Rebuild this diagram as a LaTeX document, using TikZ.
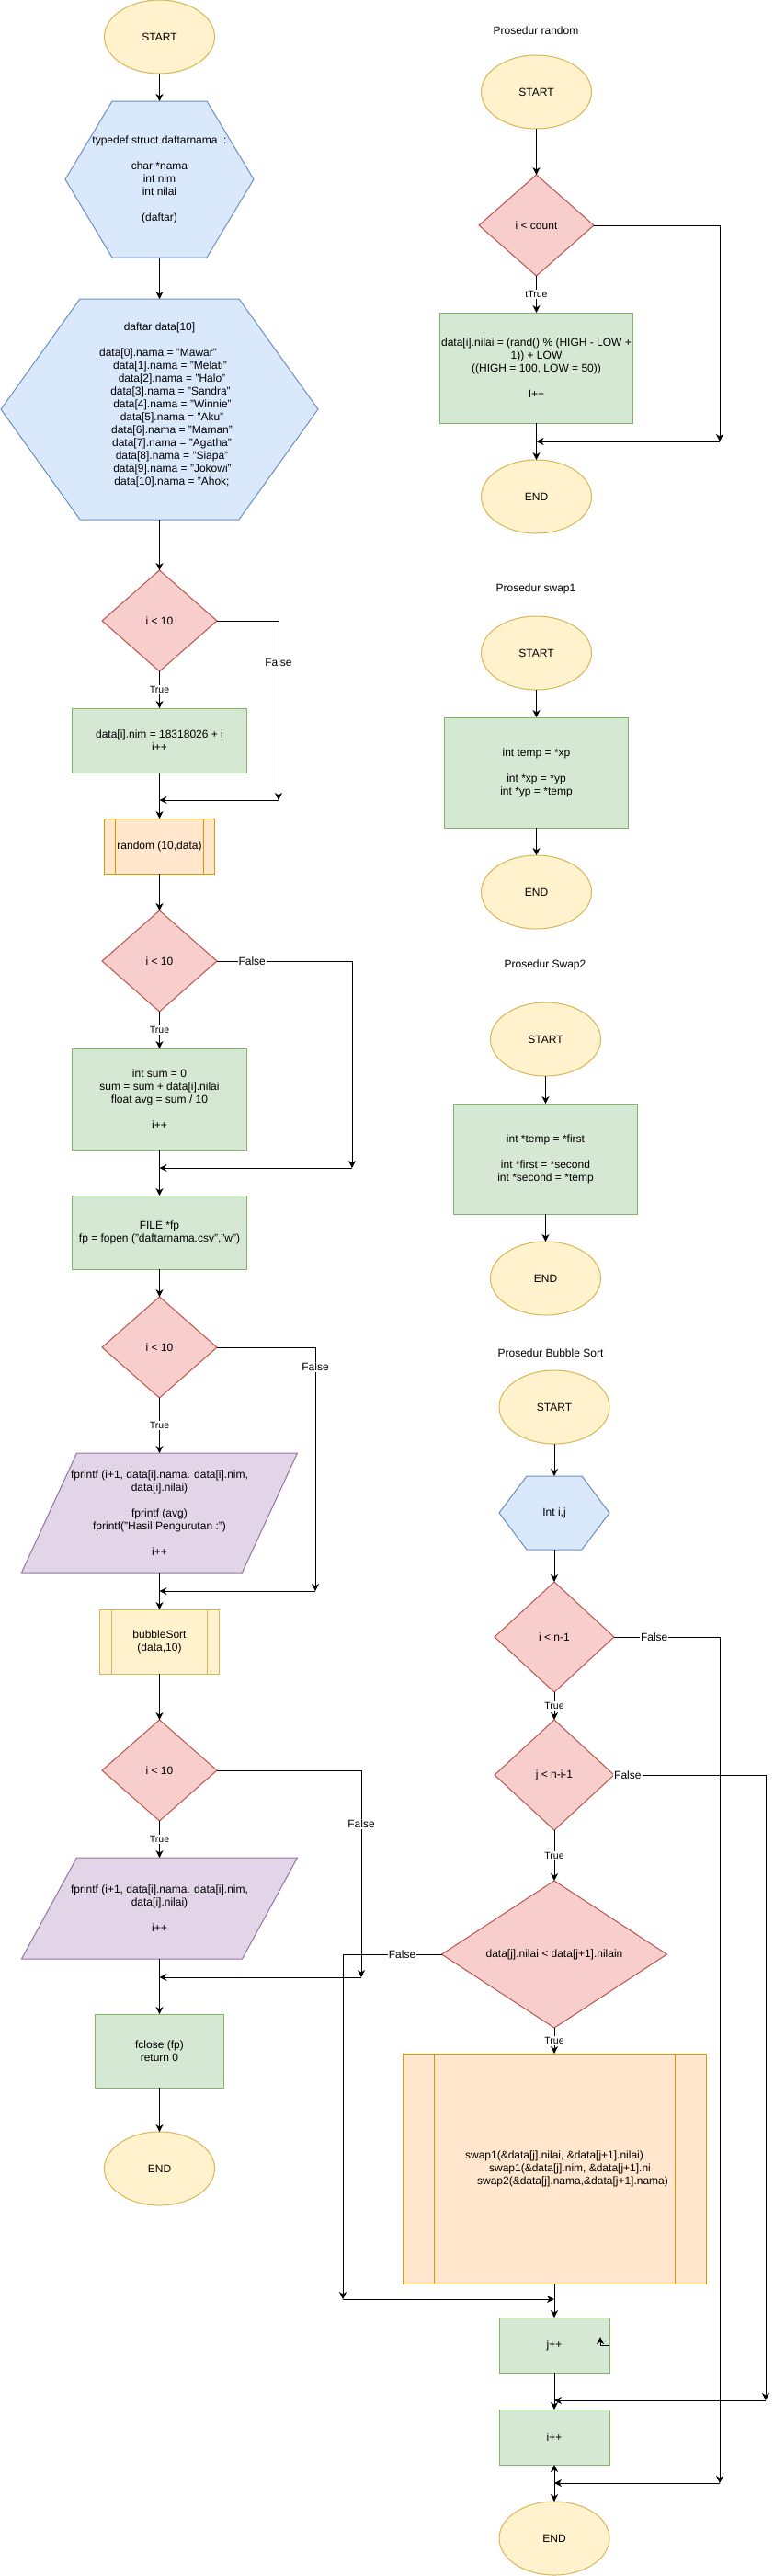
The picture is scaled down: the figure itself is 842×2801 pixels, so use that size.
\documentclass[tikz,border=0pt]{standalone}
\usepackage{fontspec}
\setmainfont{Liberation Sans}
\usetikzlibrary{shapes.geometric,arrows.meta,calc}
\pgfdeclarelayer{bg}
\pgfsetlayers{bg,main}

\definecolor{yelF}{HTML}{FFF2CC}\definecolor{yelD}{HTML}{D6B656}
\definecolor{bluF}{HTML}{DAE8FC}\definecolor{bluD}{HTML}{6C8EBF}
\definecolor{redF}{HTML}{F8CECC}\definecolor{redD}{HTML}{B85450}
\definecolor{grnF}{HTML}{D5E8D4}\definecolor{grnD}{HTML}{82B366}
\definecolor{orgF}{HTML}{FFE6CC}\definecolor{orgD}{HTML}{D79B00}
\definecolor{purF}{HTML}{E1D5E7}\definecolor{purD}{HTML}{9673A6}

\tikzset{
  base/.style={inner sep=0pt, outer sep=0pt, align=center, font=\fontsize{12}{14}\selectfont, line width=1pt},
  term/.style={base, ellipse, draw=yelD, fill=yelF, minimum width=120pt, minimum height=80pt},
  dec/.style={base, diamond, draw=redD, fill=redF},
  proc/.style={base, rectangle, draw=grnD, fill=grnF},
  subO/.style={base, rectangle, draw=orgD, fill=orgF},
  subY/.style={base, rectangle, draw=yelD, fill=yelF},
  shp/.style={base, rectangle},
  tip/.tip={Stealth[length=8pt,width=8pt,inset=2.5pt]},
  flow/.style={line width=1pt, -tip},
  flowboth/.style={line width=1pt, tip-tip},
  lbl/.style={fill=white, inner sep=1pt, font=\fontsize{10.5}{12}\selectfont},
  flbl/.style={fill=white, inner sep=1pt, font=\fontsize{12}{14}\selectfont},
  title/.style={inner sep=0pt, font=\fontsize{12}{14}\selectfont},
}

\newcommand\hexShape[2]{%
  \begin{pgfonlayer}{bg}
  \filldraw[line width=1pt, draw=bluD, fill=bluF] (#1.west) -- ([xshift=#2pt]#1.north west) -- ([xshift=-#2pt]#1.north east) -- (#1.east) -- ([xshift=-#2pt]#1.south east) -- ([xshift=#2pt]#1.south west) -- cycle;
  \end{pgfonlayer}}
\newcommand\paraShape[2]{%
  \begin{pgfonlayer}{bg}
  \filldraw[line width=1pt, draw=purD, fill=purF] ([xshift=#2pt]#1.north west) -- (#1.north east) -- ([xshift=-#2pt]#1.south east) -- (#1.south west) -- cycle;
  \end{pgfonlayer}}
\newcommand\subLines[3]{%
  \draw[line width=1pt, #3] ([xshift=#2pt]#1.north west) -- ([xshift=#2pt]#1.south west)
    ([xshift=-#2pt]#1.north east) -- ([xshift=-#2pt]#1.south east);}

\begin{document}
\begin{tikzpicture}[x=1pt,y=-1pt]
\useasboundingbox (0,0) rectangle (842,2801);

% ---------------- main program ----------------
\node[term] (st) at (173.5,40) {START};
\node[shp, minimum width=205pt, minimum height=170pt] (hx1) at (173.5,195)
  {typedef struct daftarnama\ \ :\\[14pt]char *nama\\int nim\\int nilai\\[14pt](daftar)};
\hexShape{hx1}{51}
\node[shp, minimum width=345pt, minimum height=240pt] (hx2) at (173.5,445) {};
\hexShape{hx2}{86}
\node[base] (hx2t) at (173.5,440) {daftar data[10]\\[14pt]%
\hspace*{-3pt}data[0].nama = "Mawar"\\
\hspace*{23pt}data[1].nama = "Melati"\\
\hspace*{27pt}data[2].nama = "Halo"\\
\hspace*{24pt}data[3].nama = "Sandra"\\
\hspace*{28pt}data[4].nama = "Winnie"\\
\hspace*{27pt}data[5].nama = "Aku"\\
\hspace*{27pt}data[6].nama = "Maman"\\
\hspace*{27pt}data[7].nama = "Agatha"\\
\hspace*{27pt}data[8].nama = "Siapa"\\
\hspace*{28pt}data[9].nama = "Jokowi"\\
\hspace*{27pt}data[10].nama = "Ahok;};
\node[dec, minimum width=125pt, minimum height=110pt] (d1) at (173.5,675) {i < 10};
\node[proc, minimum width=190pt, minimum height=70pt] (b1) at (173.5,805) {data[i].nim = 18318026 + i\\i++};
\node[subO, minimum width=120pt, minimum height=60pt] (r1) at (173.5,920) {random (10,data)};
\subLines{r1}{12}{orgD}
\node[dec, minimum width=125pt, minimum height=110pt] (d2) at (173.5,1045) {i < 10};
\node[proc, minimum width=190pt, minimum height=110pt] (b2) at (173.5,1195)
  {int sum = 0\\sum = sum + data[i].nilai\\float avg = sum / 10\\[14pt]i++};
\node[proc, minimum width=190pt, minimum height=80pt] (b3) at (173.5,1340)
  {FILE *fp\\fp = fopen ("daftarnama.csv","w")};
\node[dec, minimum width=125pt, minimum height=110pt] (d3) at (173.5,1465) {i < 10};
\node[shp, minimum width=300pt, minimum height=130pt] (p1) at (173.5,1645)
  {fprintf (i+1, data[i].nama. data[i].nim,\\data[i].nilai)\\[14pt]fprintf (avg)\\fprintf("Hasil Pengurutan :")\\[14pt]i++};
\paraShape{p1}{60}
\node[subY, minimum width=130pt, minimum height=70pt] (bs) at (173.5,1785) {bubbleSort\\(data,10)};
\subLines{bs}{13}{yelD}
\node[dec, minimum width=125pt, minimum height=110pt] (d4) at (173.5,1925) {i < 10};
\node[shp, minimum width=300pt, minimum height=110pt] (p2) at (173.5,2075)
  {fprintf (i+1, data[i].nama. data[i].nim,\\data[i].nilai)\\[14pt]i++};
\paraShape{p2}{60}
\node[proc, minimum width=140pt, minimum height=80pt] (b4) at (173.5,2230) {fclose (fp)\\return 0};
\node[term] (e1) at (173.5,2358) {END};

\coordinate (j1) at (303,870);
\coordinate (j2) at (383,1270);
\coordinate (j3) at (343,1730);
\coordinate (j4) at (393,2150);

\draw[flow] (st.south) -- (hx1.north);
\draw[flow] (hx1.south) -- (hx2.north);
\draw[flow] (hx2.south) -- (d1.north);
\draw[flow] (d1.south) -- node[lbl]{True} (b1.north);
\draw[flow] (d1.east) -| node[flbl,pos=0.615]{False} (j1);
\draw[flow] (j1) -- (j1 -| b1.south);
\draw[flow] (b1.south) -- (r1.north);
\draw[flow] (r1.south) -- (d2.north);
\draw[flow] (d2.south) -- node[lbl]{True} (b2.north);
\draw[flow] (d2.east) -| node[flbl,pos=0.13]{False} (j2);
\draw[flow] (j2) -- (j2 -| b2.south);
\draw[flow] (b2.south) -- (b3.north);
\draw[flow] (b3.south) -- (d3.north);
\draw[flow] (d3.south) -- node[lbl]{True} (p1.north);
\draw[flow] (d3.east) -| node[flbl,pos=0.54]{False} (j3);
\draw[flow] (j3) -- (j3 -| p1.south);
\draw[flow] (p1.south) -- (bs.north);
\draw[flow] (bs.south) -- (d4.north);
\draw[flow] (d4.south) -- node[lbl]{True} (p2.north);
\draw[flow] (d4.east) -| node[flbl,pos=0.63]{False} (j4);
\draw[flow] (j4) -- (j4 -| p2.south);
\draw[flow] (p2.south) -- (b4.north);
\draw[flow] (b4.south) -- (e1.north);

% ---------------- Prosedur random ----------------
\node[title] (t1) at (583,33) {Prosedur random};
\node[term] (rs) at (583.5,100) {START};
\node[dec, minimum width=125pt, minimum height=110pt] (rd) at (583.5,245) {i < count};
\node[proc, minimum width=210pt, minimum height=120pt] (rb) at (583.5,400)
  {data[i].nilai = (rand() \% (HIGH - LOW +\\1)) + LOW\\((HIGH = 100, LOW = 50))\\[14pt]I++};
\node[term] (re) at (583.5,540) {END};
\coordinate (rj) at (783,480);
\draw[flow] (rs.south) -- (rd.north);
\draw[flow] (rd.south) -- node[lbl]{tTrue} (rb.north);
\draw[flow] (rb.south) -- (re.north);
\draw[flow] (rd.east) -| (rj);
\draw[flow] (rj) -- (rj -| rb.south);

% ---------------- Prosedur swap1 ----------------
\node[title] (t2) at (583,640) {Prosedur swap1};
\node[term] (as) at (583.5,710) {START};
\node[proc, minimum width=200pt, minimum height=120pt] (ab) at (583.5,840)
  {int temp = *xp\\[14pt]int *xp = *yp\\int *yp = *temp};
\node[term] (ae) at (583.5,970) {END};
\draw[flow] (as.south) -- (ab.north);
\draw[flow] (ab.south) -- (ae.north);

% ---------------- Prosedur Swap2 ----------------
\node[title] (t3) at (593,1049) {Prosedur Swap2};
\node[term] (cs) at (593.5,1130) {START};
\node[proc, minimum width=200pt, minimum height=120pt] (cb) at (593.5,1260)
  {int *temp = *first\\[14pt]int *first = *second\\int *second = *temp};
\node[term] (ce) at (593.5,1390) {END};
\draw[flow] (cs.south) -- (cb.north);
\draw[flow] (cb.south) -- (ce.north);

% ---------------- Prosedur Bubble Sort ----------------
\node[title] (t4) at (599,1471) {Prosedur Bubble Sort};
\node[term] (bss) at (603,1530) {START};
\node[shp, minimum width=120pt, minimum height=80pt] (bhx) at (603,1645) {Int i,j};
\hexShape{bhx}{30}
\node[dec, minimum width=130pt, minimum height=120pt] (bd1) at (603,1780) {i < n-1};
\node[dec, minimum width=130pt, minimum height=120pt] (bd2) at (603,1930) {j < n-i-1};
\node[dec, minimum width=245pt, minimum height=150pt] (bd3) at (603,2125) {data[j].nilai < data[j+1].nilain};
\node[subO, minimum width=330pt, minimum height=250pt] (bsw) at (603,2358)
  {swap1(\&data[j].nilai, \&data[j+1].nilai)\\
   \hspace*{34pt}swap1(\&data[j].nim, \&data[j+1].ni\\
   \hspace*{40pt}swap2(\&data[j].nama,\&data[j+1].nama)};
\subLines{bsw}{34}{orgD}
\node[proc, minimum width=120pt, minimum height=60pt] (bj) at (603,2550) {j++};
\node[proc, minimum width=120pt, minimum height=60pt] (bi) at (603,2650) {i++};
\node[term] (be) at (603,2760) {END};

\coordinate (k1) at (783,2700);
\coordinate (k2) at (833,2610);
\coordinate (k3) at (373,2500);
\coordinate (tk) at (653,2541);

\draw[flow] (bss.south) -- (bhx.north);
\draw[flow] (bhx.south) -- (bd1.north);
\draw[flow] (bd1.south) -- node[lbl]{True} (bd2.north);
\draw[flow] (bd2.south) -- node[lbl]{True} (bd3.north);
\draw[flow] (bd3.south) -- node[lbl]{True} (bsw.north);
\draw[flow] (bsw.south) -- (bj.north);
\draw[flow] (bj.south) -- (bi.north);
\draw[flowboth] (bi.south) -- (be.north);
\draw[flow] (bj.east) -| (tk);
\draw[flow] (bd1.east) -| node[flbl,pos=0.19]{False} (k1);
\draw[flow] (k1) -- (k1 -| bi.south);
\draw[flow] (bd2.east) -| node[flbl,pos=0.045]{False} (k2);
\draw[flow] (k2) -- (k2 -| bj.south);
\draw[flow] (bd3.west) -| node[flbl,pos=0.2]{False} (k3);
\draw[flow] (k3) -- (k3 -| bsw.south);
\end{tikzpicture}
\end{document}
